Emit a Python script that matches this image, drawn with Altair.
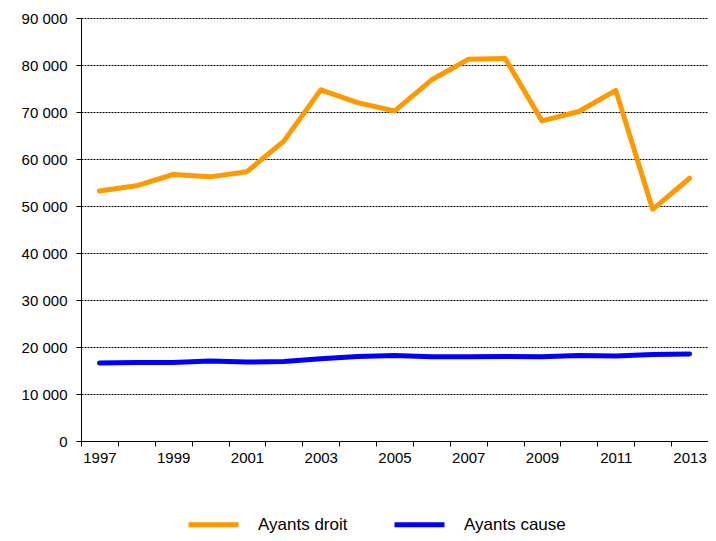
import altair as alt
import pandas as pd

years = list(range(1997, 2014))
ayants_droit = [53200, 54300, 56700, 56200, 57300, 63800, 74700, 72000, 70200,
                76800, 81200, 81400, 68100, 70100, 74600, 49300, 55900]
ayants_cause = [16600, 16700, 16700, 17000, 16800, 16900, 17500, 18000, 18200,
                17900, 17900, 18000, 17900, 18200, 18100, 18400, 18500]
series_names = ["Ayants droit", "Ayants cause"]
series_colors = ["#FF9900", "#0000FF"]

rows = []
for y, a, c in zip(years, ayants_droit, ayants_cause):
    rows.append({"year": y, "value": a, "series": series_names[0]})
    rows.append({"year": y, "value": c, "series": series_names[1]})
df = pd.DataFrame(rows)

font = "Liberation Sans"

chart = alt.Chart(df).mark_line(strokeWidth=5, strokeCap="round", strokeJoin="round").encode(
    x=alt.X("year:O", bandPosition=0.5,
            scale=alt.Scale(type="band", paddingInner=0, paddingOuter=0),
            axis=alt.Axis(title=None, tickBand="extent", labelAngle=0,
                          labelExpr="datum.value % 2 == 1 ? datum.label : ''",
                          domainColor="black", tickColor="black", tickSize=5,
                          labelFont=font, labelFontSize=15, labelColor="black",
                          labelPadding=4, grid=False)),
    y=alt.Y("value:Q", scale=alt.Scale(domain=[0, 90000], nice=False),
            axis=alt.Axis(title=None, values=list(range(0, 90001, 10000)),
                          labelExpr="replace(format(datum.value, ','), ',', ' ')",
                          domainColor="black", tickColor="black", tickSize=5,
                          labelFont=font, labelFontSize=15, labelColor="black",
                          labelPadding=9, grid=True, gridColor="black",
                          gridDash=[2, 1], gridWidth=1)),
    color=alt.Color("series:N", sort=series_names,
                    scale=alt.Scale(domain=series_names, range=series_colors),
                    legend=alt.Legend(title=None, orient="none", direction="horizontal",
                                      legendX=105, legendY=479,
                                      symbolType="stroke", symbolSize=2500,
                                      symbolStrokeWidth=5, labelFont=font,
                                      labelFontSize=17, labelColor="black",
                                      labelOffset=17, columnPadding=36)),
).properties(
    width=627, height=423,
    autosize=alt.AutoSizeParams(type="none"),
    padding={"left": 73, "top": 10, "right": 0, "bottom": 100},
).configure_view(stroke=None)

chart.save("out.html", embed_options={"renderer": "svg", "actions": False})
